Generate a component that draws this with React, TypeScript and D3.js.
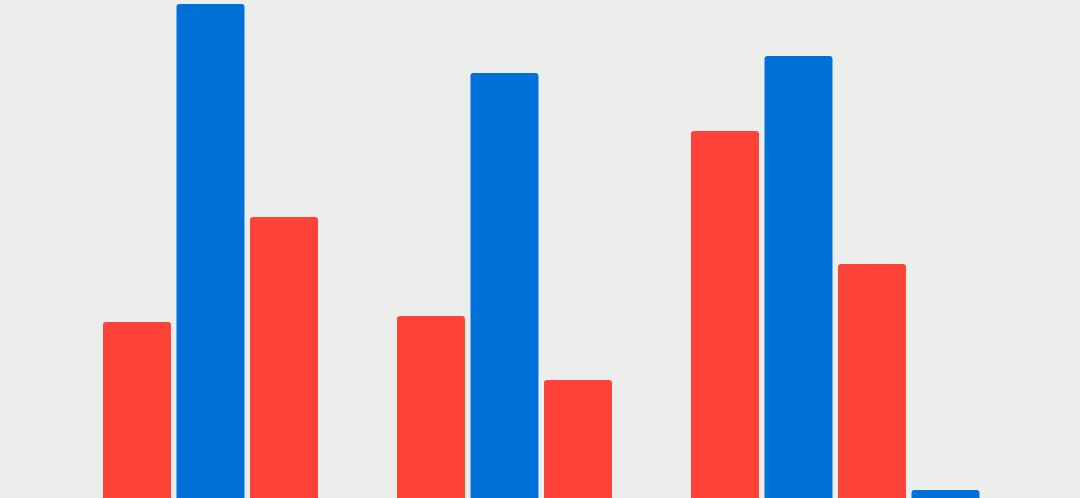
import React from "react";
import * as d3 from "d3";

const categories = ["a1", "a2", "a3", "a4", "b1", "b2", "b3", "b4", "c1", "c2", "c3", "c4"];
const values = [176, 494, 281, 0, 182, 425, 118, 0, 367, 442, 234, 8];
const seriesColor = ["red", "blue", "red", "blue", "red", "blue", "red", "blue", "red", "blue", "red", "blue"];

const W = 1080;
const H = 498;
const colors: Record<string, string> = { red: "#ff4339", blue: "#0071d9" };

export default function App() {
  const x = d3
    .scaleBand<string>()
    .domain(categories)
    .range([100.25, 982.25])
    .paddingInner(0.075)
    .paddingOuter(0.0375);
  const y = d3.scaleLinear().domain([0, 500]).range([H, H - 500]);
  return (
    <div style={{ position: "fixed", left: 0, top: 0, width: W, height: H }}>
      <svg width={W} height={H} style={{ display: "block" }}>
        <rect x={0} y={0} width={W} height={H} fill="#eceeeb" />
        {categories.map((c, i) =>
          values[i] > 0 ? (
            <rect
              key={c}
              x={x(c)}
              y={y(values[i])}
              width={x.bandwidth()}
              height={y(0) - y(values[i]) + 10}
              rx={3}
              fill={colors[seriesColor[i]]}
            />
          ) : null
        )}
      </svg>
    </div>
  );
}
